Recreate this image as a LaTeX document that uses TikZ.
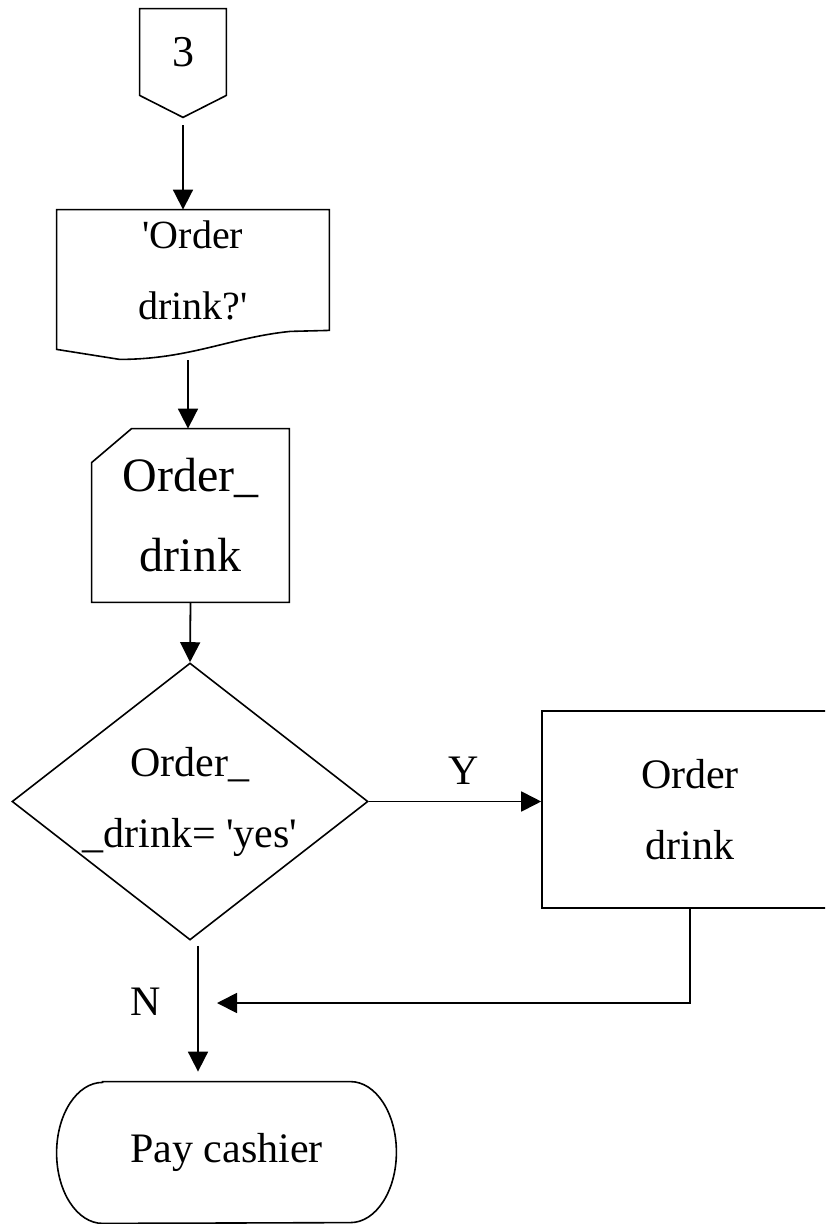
\documentclass[tikz,border=0pt]{standalone}
\usepackage{fontspec}
\setmainfont{Liberation Serif}
\usetikzlibrary{shapes, positioning, arrows.meta, calc}
\tikzset{
  flow/.style={
    inner sep=0pt,
    align=center
  },
  offpage/.style={flow, minimum width=43pt, minimum height=43pt,
    font=\fontsize{22pt}{26pt}\selectfont},
  docbox/.style={flow, minimum width=136pt, minimum height=60pt,
    font=\fontsize{20pt}{35.5pt}\selectfont},
  manual/.style={flow, minimum width=98.5pt, minimum height=86.5pt,
    font=\fontsize{24pt}{40pt}\selectfont},
  decision/.style={flow, diamond, draw=black, line width=0.8pt,
    minimum width=178pt, minimum height=138.5pt, shape aspect=1.285},
  process/.style={flow, rectangle, draw=black, line width=0.8pt,
    minimum width=148pt, minimum height=98.5pt},
  terminal/.style={flow, minimum width=169.5pt, minimum height=70.5pt},
  outline/.style={draw=black, line width=0.8pt},
  arrow/.style={
    draw=black,
    line width=0.9pt,
    -{Triangle[length=10pt, width=10pt]}
  }
}

\begin{document}
\begin{tikzpicture}[x=0.5pt, y=0.5pt, font=\fontsize{21pt}{35.5pt}\selectfont]
\clip (0,0) rectangle (825,-1224);

% nodes
\node[offpage] (off) at (183,-52) {3};
\coordinate (offtip) at ($(off.south)+(0,-22)$);
\draw[outline] (off.north west) -- (off.north east) -- (off.south east)
  -- (offtip) -- (off.south west) -- cycle;

\node[docbox] (doc) at (193,-270)
{\textquotesingle Order\\drink?\textquotesingle};
\draw[outline] (doc.south east) -- (doc.north east) -- (doc.north west)
  -- ($(doc.south west)+(0,-19)$) -- ($(doc.south west)+(63,-29)$)
  .. controls ($(doc.south west)+(133,-29)$) and ($(doc.south east)+(-99,-7)$)
  .. ($(doc.south east)+(-39,-1)$) -- cycle;

\node[manual] (man) at (190.5,-515.5) {Order\_\\drink};
\draw[outline] ($(man.north west)+(40,0)$) -- (man.north east) -- (man.south east)
  -- (man.south west) -- ($(man.north west)+(0,-34)$) -- cycle;

\node[decision] (dec) at (190,-801.5)
{Order\_\\\_drink= \textquotesingle yes\textquotesingle};

\node[process] (proc) at (690,-809.5) {Order\\drink};

\node[terminal] (pay) at (226.5,-1152.5) {Pay cashier};
\draw[outline] ($(pay.north west)+(46,0)$) -- ($(pay.north east)+(-46,0)$)
  arc[start angle=90, end angle=-90, x radius=23pt, y radius=35.25pt]
  -- ($(pay.south west)+(46,0)$)
  arc[start angle=270, end angle=90, x radius=23pt, y radius=35.25pt] -- cycle;

\coordinate (mrg) at (217,-1003);

% edges
\draw[arrow, shorten <=4pt] (offtip) -- (offtip |- doc.north);

\coordinate (d2) at ($(doc.south)+(-5,-30)$);
\draw[arrow] (d2) -- (d2 |- man.north);

\draw[arrow] (man.south) -- (dec.north);

\draw[arrow] (dec.east) -- node[above=4.5pt, pos=0.55]{Y} (dec.east -| proc.west);

\draw[arrow] (proc.south) |- (mrg);

\coordinate (n1) at ($(dec.south)+(8,0)$);
\draw[arrow, shorten <=2.5pt, shorten >=5pt] (n1) -- node[left=15pt, pos=0.43]{N} (n1 |- pay.north);

\end{tikzpicture}
\end{document}
